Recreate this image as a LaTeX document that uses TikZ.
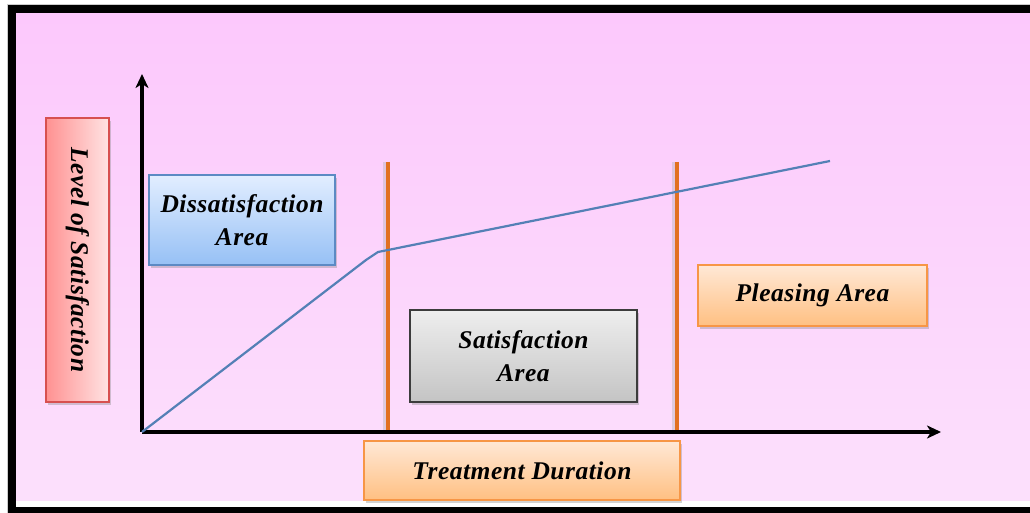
\documentclass[tikz,border=0pt]{standalone}
\usepackage{fontspec}
\setmainfont{Liberation Serif}[LetterSpace=2]
\usetikzlibrary{arrows.meta,shadows}
\definecolor{pinktop}{RGB}{252,200,252}
\definecolor{pinkbot}{RGB}{252,224,252}
\definecolor{blueline}{RGB}{84,128,182}
\definecolor{orangeline}{RGB}{226,112,32}
\definecolor{bluetop}{RGB}{226,238,255}
\definecolor{bluebot}{RGB}{150,192,245}
\definecolor{blueedge}{RGB}{92,138,196}
\definecolor{redleft}{RGB}{255,145,145}
\definecolor{redright}{RGB}{255,228,228}
\definecolor{rededge}{RGB}{215,80,80}
\definecolor{graytop}{RGB}{238,238,238}
\definecolor{graybot}{RGB}{196,196,196}
\definecolor{grayedge}{RGB}{60,60,60}
\definecolor{orgtop}{RGB}{255,232,214}
\definecolor{orgbot}{RGB}{255,192,130}
\definecolor{orgedge}{RGB}{247,150,70}
\pgfdeclarehorizontalshading{redh}{100bp}{color(0bp)=(redleft); color(25bp)=(redleft); color(75bp)=(redright); color(100bp)=(redright)}
\tikzset{
  txt/.style={font=\fontsize{25.5}{28}\selectfont\bfseries\itshape, align=center, inner sep=0pt},
  lbl/.style={txt, drop shadow={opacity=0.35, shadow xshift=2pt, shadow yshift=-3pt}},
  bluebox/.style={lbl, draw=blueedge, line width=1.2pt, top color=bluetop, bottom color=bluebot},
  graybox/.style={lbl, draw=grayedge, line width=1.2pt, top color=graytop, bottom color=graybot},
  orgbox/.style={lbl, draw=orgedge, line width=1.2pt, top color=orgtop, bottom color=orgbot},
  redbox/.style={lbl, draw=rededge, line width=1.2pt, shading=redh, shading angle=0},
  axis/.style={line width=3.4pt, -{Stealth[length=14pt,width=13pt,inset=4pt]}},
  zone/.style={line width=3.6pt, orangeline},
  curve/.style={line width=2.2pt, blueline},
}
\begin{document}
\begin{tikzpicture}[x=1pt,y=-1pt]
\useasboundingbox (0,0) rectangle (1030,513);
\fill[white] (0,0) rectangle (1030,513);
\shade[top color=pinktop, bottom color=pinkbot] (16,13) rectangle (1030,500);
\fill[black] (8,5) rectangle (1030,13);
\fill[black] (8,5) rectangle (16,513);
\fill[black] (8,507) rectangle (1030,513);
\draw[gray!40, line width=0.8pt] (7,4) -- (1030,4);
\draw[gray!40, line width=0.8pt] (7,4) -- (7,513);

% orange zone lines with faint shadows
\draw[line width=3pt, gray!60, opacity=0.4] (384.5,162) -- (384.5,432);
\draw[line width=3pt, gray!60, opacity=0.4] (673.5,162) -- (673.5,432);
\coordinate (z1t) at (388,162);
\coordinate (z1b) at (388,432);
\coordinate (z2t) at (677,162);
\coordinate (z2b) at (677,432);
\draw[zone] (z1t) -- (z1b);
\draw[zone] (z2t) -- (z2b);

% axes
\coordinate (o) at (142,432);
\coordinate (ytip) at (142,74);
\coordinate (xtip) at (941,432);
\draw[axis] (o) -- (ytip);
\draw[axis] (o) -- (xtip);

% satisfaction curve
\coordinate (k1) at (366,260);
\coordinate (k2) at (378,252);
\coordinate (cend) at (830,161);
\draw[curve] (o) -- (k1) -- (k2) -- (cend);

% boxes
\node[bluebox, minimum width=186pt, minimum height=90pt] (dis) at (242,220) {Dissatisfaction\\[5pt]Area};
\node[redbox, minimum width=63pt, minimum height=284pt] (losbox) at (77.5,260) {};
\node[txt, rotate=-90] (los) at (losbox.center) {Level of Satisfaction};
\node[graybox, minimum width=227pt, minimum height=92pt] (sat) at (523.5,356) {Satisfaction\\[5pt]Area};
\node[orgbox, minimum width=229pt, minimum height=61pt] (ple) at (812.5,295.5) {Pleasing Area};
\node[orgbox, minimum width=316pt, minimum height=59pt] (tre) at (522,470.5) {Treatment Duration};
\end{tikzpicture}
\end{document}
